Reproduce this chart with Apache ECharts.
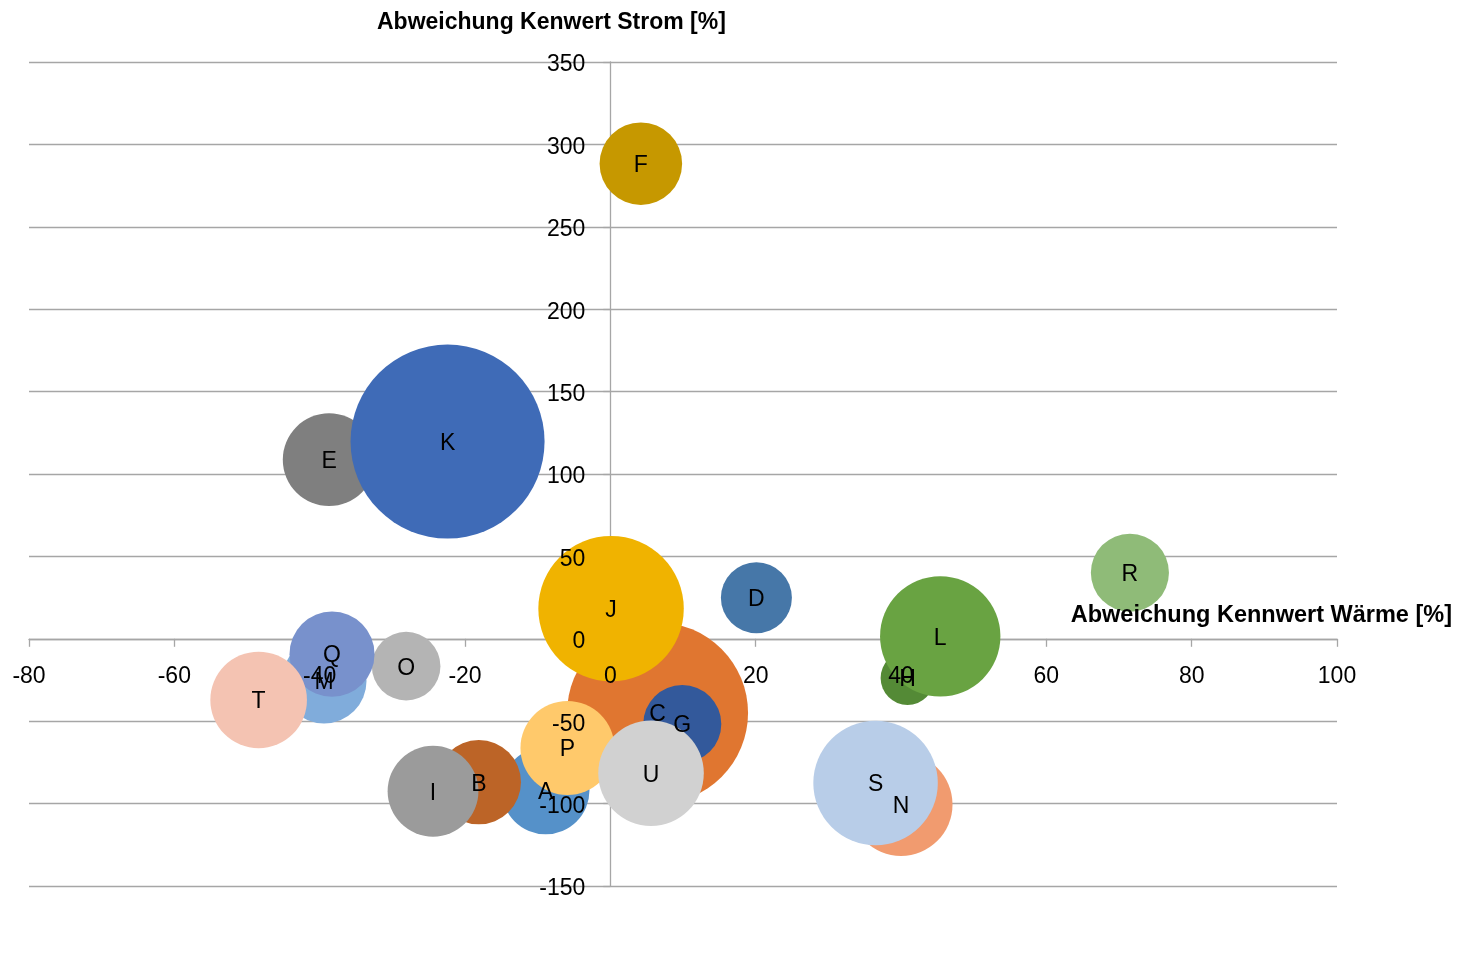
<!DOCTYPE html>
<html>
<head>
<meta charset="utf-8">
<script src="https://cdn.jsdelivr.net/npm/echarts@6/dist/echarts.min.js"></script>
<style>
html,body{margin:0;padding:0;background:#fff;}
#chart{width:1457px;height:966px;}
</style>
</head>
<body>
<div id="chart"></div>
<script>
// ---- data ----
const categories = ['A','B','C','D','E','F','G','H','I','J','K','L','M','N','O','P','Q','R','S','T','U'];
const abweichungWaerme = [-8.9, -18.1, 6.5, 20.1, -38.7, 4.2, 9.9, 40.9, -24.4, 0.1, -22.4, 45.4, -39.4, 40.0, -28.1, -5.9, -38.3, 71.5, 36.5, -48.4, 5.6];
const abweichungStrom = [-92.0, -87.0, -45.0, 24.9, 108.7, 288.3, -51.7, -23.8, -92.5, 18.3, 119.7, 1.5, -25.6, -100.5, -16.6, -66.3, -9.3, 40.1, -87.5, -37.1, -81.6];
const bubbleSize = [20.4, 18.9, 87.0, 13.4, 22.8, 18.1, 16.2, 7.7, 21.9, 56.2, 100, 38.5, 19.2, 28.2, 12.5, 23.5, 19.2, 16.2, 41.2, 24.8, 29.6];
const xAxisRange = { min: -80, max: 100, interval: 20 };
const yAxisRange = { min: -150, max: 350, interval: 50 };
const xAxisTitle = 'Abweichung Kennwert Wärme [%]';
const yAxisTitle = 'Abweichung Kenwert Strom [%]';

// ---- styles / layout ----
const palette = ['#5591C9','#BC6427','#E07630','#4677A8','#7F7F7F','#C69800','#33599B','#548A36','#9B9B9B','#F0B300','#3F6BB7','#69A342','#80ACDB','#F19B6F','#B4B4B4','#FFC96B','#7891CC','#8FBB78','#B8CDE8','#F4C3B2','#D1D1D1'];
const FONT = '"Liberation Sans", Arial, sans-serif';
const GRID_COLOR = '#A6A6A6';
const SIZE_SCALE = 19.4;
const W = 1457, H = 966;
const PAD = { left: 29, right: 120, top: 62, bottom: 80 };

const plotW = W - PAD.left - PAD.right;
const plotH = H - PAD.top - PAD.bottom;
const x0px = PAD.left + (0 - xAxisRange.min) / (xAxisRange.max - xAxisRange.min) * plotW;
const y0px = PAD.top + (yAxisRange.max - 0) / (yAxisRange.max - yAxisRange.min) * plotH;

const points = categories.map((c, i) => ({
  name: c,
  value: [abweichungWaerme[i], abweichungStrom[i], bubbleSize[i]],
  itemStyle: { color: palette[i] }
}));

const chart = echarts.init(document.getElementById('chart'), null, { renderer: 'canvas' });

const gridCommon = { containLabel: false, outerBoundsMode: 'none' };
const baseX = { type: 'value', min: xAxisRange.min, max: xAxisRange.max, interval: xAxisRange.interval, position: 'bottom' };
const baseY = { type: 'value', min: yAxisRange.min, max: yAxisRange.max, interval: yAxisRange.interval, position: 'left' };
const labelStyle = { color: '#000', fontSize: 23, fontFamily: FONT, showMinLabel: true, showMaxLabel: true };

chart.setOption({
  animation: false,
  backgroundColor: '#ffffff',
  grid: [
    Object.assign({}, gridCommon, { left: PAD.left, right: PAD.right, top: PAD.top, bottom: PAD.bottom }),
    Object.assign({}, gridCommon, { left: PAD.left, right: PAD.right, top: PAD.top, bottom: H - y0px }),
    Object.assign({}, gridCommon, { left: x0px, right: PAD.right, top: PAD.top, bottom: PAD.bottom })
  ],
  xAxis: [
    Object.assign({}, baseX, {
      gridIndex: 0, z: 0,
      axisLine: { show: true, onZero: true, lineStyle: { color: GRID_COLOR, width: 1.3 } },
      axisTick: { show: true, inside: false, length: 8, lineStyle: { color: GRID_COLOR, width: 1.3 } },
      axisLabel: { show: false },
      splitLine: { show: false }
    }),
    Object.assign({}, baseX, {
      gridIndex: 1, z: 20,
      axisLine: { show: false, onZero: false },
      axisTick: { show: false },
      splitLine: { show: false },
      axisLabel: Object.assign({ show: true, margin: 26 }, labelStyle)
    }),
    Object.assign({}, baseX, { gridIndex: 2, show: false, axisLine: { onZero: false } })
  ],
  yAxis: [
    Object.assign({}, baseY, {
      gridIndex: 0, z: 0,
      axisLine: { show: true, onZero: true, lineStyle: { color: GRID_COLOR, width: 1.3 } },
      axisTick: { show: true, inside: false, length: 7, lineStyle: { color: GRID_COLOR, width: 1.3 } },
      axisLabel: { show: false },
      splitLine: { show: true, lineStyle: { color: GRID_COLOR, width: 1.3 } }
    }),
    Object.assign({}, baseY, { gridIndex: 1, show: false, min: 0, max: 1, interval: 1, axisLine: { onZero: false } }),
    Object.assign({}, baseY, {
      gridIndex: 2, z: 20,
      axisLine: { show: false, onZero: false },
      axisTick: { show: false },
      splitLine: { show: false },
      axisLabel: Object.assign({}, labelStyle, {
        show: true, margin: 25,
        formatter: '{v|{value}}',
        rich: { v: { color: '#000', fontSize: 23, fontFamily: FONT, padding: [6, 0, 0, 0] } }
      })
    })
  ],
  series: [{
    type: 'scatter',
    xAxisIndex: 0, yAxisIndex: 0,
    data: points,
    symbol: 'circle',
    symbolSize: function (val) { return SIZE_SCALE * Math.sqrt(val[2]); },
    itemStyle: { opacity: 1 },
    label: {
      show: true, position: 'inside', formatter: '{b}', offset: [0, 2],
      color: '#000', fontSize: 23, fontFamily: FONT
    },
    emphasis: { disabled: true },
    z: 5
  }],
  graphic: [
    {
      type: 'text', left: 377, top: 11, z: 30,
      style: { text: yAxisTitle, fontSize: 23, fontWeight: 'bold', fontFamily: FONT, fill: '#000' }
    },
    {
      type: 'text', right: 5, top: 604, z: 30,
      style: { text: xAxisTitle, fontSize: 23.5, fontWeight: 'bold', fontFamily: FONT, fill: '#000' }
    }
  ]
});
</script>
</body>
</html>
